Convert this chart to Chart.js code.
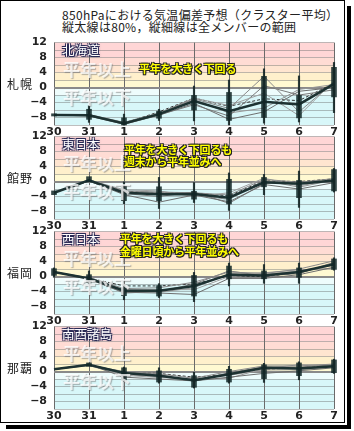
<!DOCTYPE html>
<html>
<head>
<meta charset="utf-8">
<script src="https://cdn.jsdelivr.net/npm/chart.js@4.4.1/dist/chart.umd.min.js"></script>
<style>
  body { margin: 0; width: 354px; height: 431px; overflow: hidden; position: relative; background: #fff;
         font-family: "Noto Sans CJK JP", sans-serif; }
  #frame { position: absolute; left: 0; top: 0; width: 343px; height: 421px; border: 1px solid #000;
           background: #fff; box-shadow: 2px 2px 0 0 #fff, 6px 6px 0 0 #000; }
  canvas { position: absolute; left: 0; }
  .t { position: absolute; white-space: nowrap; line-height: 1; }
  .title { left: 62px; font-size: 12px; color: #222; letter-spacing: 0.3px; }
  .stn { left: 7px; font-size: 12px; color: #222; letter-spacing: 1px; }
  .region { left: 62px; font-size: 12.5px; color: #fff;
            text-shadow: -1px -1px 0 #2a2a55, 1px -1px 0 #2a2a55, -1px 1px 0 #2a2a55, 1px 1px 0 #2a2a55, 0 0 3px #446; }
  .mark { left: 63px; font-size: 17px; font-weight: bold; color: rgba(255,255,255,0.75);
          text-shadow: 1px 1px 1px rgba(110,110,110,0.5); }
  .note { font-size: 11px; font-weight: bold; color: #ff0; letter-spacing: -0.2px;
          text-shadow: -1px -1px 0 #222, 1px -1px 0 #222, -1px 1px 0 #222, 1px 1px 0 #222, 0 1px 0 #222, 1px 0 0 #222; }
</style>
</head>
<body>
<div id="frame"></div>
<div class="t title" style="top:9px">850hPaにおける気温偏差予想（クラスター平均）</div>
<div class="t title" style="top:21px">縦太線は80%，縦細線は全メンバーの範囲</div>

<canvas id="c0" width="354" height="110"></canvas>
<canvas id="c1" width="354" height="110"></canvas>
<canvas id="c2" width="354" height="110"></canvas>
<canvas id="c3" width="354" height="110"></canvas>

<div id="labels"></div>

<script>
// days along the x axis
const days = ["30", "31", "1", "2", "3", "4", "5", "6", "7"];
// labelled values on the y axis (grid every 2)
const yTickLabels = [12, 8, 4, 0, -4, -8];

// 札幌 (北海道)
const sapporoMean = [-7.3, -7.4, -9.6, -7.1, -3.6, -6.3, -3.8, -4.5, 1.0];
const sapporoBox = [[-7.0, -7.6], [-5.8, -8.5], [-8.1, -10], [-6.3, -8.2], [-2.1, -6.0], [-1.3, -8.8], [3.0, -8.0], [-2.1, -8.1], [5.4, -2.5]];
const sapporoRange = [null, [-4.8, -9.3], [-7.1, -10], [-5.8, -8.8], [0.4, -8.9], [2.0, -10], [5.0, -9.5], [3.1, -9.2], [6.7, -6.7]];
const sapporoMembers = [
  [-7.3, -7.2, -9.3, -6.8, -3.0, -5.6, 3.0, -6.5, 1.5],
  [-7.3, -7.6, -9.8, -7.4, -4.2, -8.5, -6.5, -1.0, 0.0],
  [-7.3, -7.3, -9.5, -6.9, -2.8, -4.8, -1.5, -7.5, 1.8],
  [-7.3, -7.5, -9.7, -7.3, -4.6, -7.6, 0.5, -2.0, -0.6],
  [-7.3, -7.4, -9.4, -7.0, -3.2, -6.8, -5.5, -0.5, 0.8]
];
const sapporoDash = [-7.3, -7.3, -9.5, -6.5, -2.8, -5.0, -3.0, -3.5, 1.2];

// 館野 (東日本)
const tatenoMean = [-3.0, 0.3, -3.0, -3.4, -3.3, -4.3, -0.2, -0.6, 0.3];
const tatenoBox = [[-2.5, -3.5], [1.3, -0.1], [-1.2, -5.1], [-1.4, -5.1], [-2.6, -4.7], [0.6, -6.0], [1.1, -1.4], [0.3, -4.3], [3.2, -2.5]];
const tatenoRange = [null, null, [-0.1, -5.9], [1.1, -7.2], [0.0, -5.6], [2.3, -7.7], [1.9, -3.5], [2.8, -6.9], [3.5, -2.8]];
const tatenoMembers = [
  [-3.0, 0.5, -2.5, -2.8, -3.0, -3.6, 0.6, -0.2, 0.8],
  [-3.0, 0.2, -3.5, -5.5, -3.6, -5.4, -0.8, -2.0, -0.3],
  [-3.0, 0.4, -2.2, -2.5, -4.0, -3.0, 0.9, -1.2, 0.6],
  [-3.0, 0.1, -3.2, -4.0, -2.8, -5.8, -0.5, -0.3, 0.0],
  [-3.0, 0.3, -2.8, -3.0, -3.5, -4.8, 0.3, -1.5, 0.4]
];
const tatenoDash = [-3.0, 0.2, -2.6, -3.0, -3.1, -3.8, 0.2, 0.0, 0.7];

// 福岡 (西日本)
const fukuokaMean = [1.2, -0.5, -3.8, -3.8, -2.5, 0.5, 0.3, 1.2, 3.3];
const fukuokaBox = [[2.1, 0.3], [0.5, -1.5], [-3.0, -5.1], [-2.4, -5.2], [0.3, -5.2], [2.8, -0.6], [1.5, -0.6], [2.3, -0.2], [4.7, 1.9]];
const fukuokaRange = [[2.3, -0.2], [1.5, -2.0], [-2.1, -6.2], [-1.9, -5.6], [1.1, -6.7], [3.6, -2.5], [3.2, -1.8], [3.6, -1.8], [5.0, 1.7]];
const fukuokaMembers = [
  [1.2, -0.3, -3.2, -3.0, -1.5, 1.2, 0.8, 2.0, 4.2],
  [1.2, -0.7, -4.2, -4.4, -4.8, -0.5, -0.5, 0.5, 2.5],
  [1.2, -0.4, -3.5, -3.5, -3.5, 0.0, 0.6, 1.5, 3.0],
  [1.2, -0.6, -4.4, -4.0, -2.0, 1.5, 0.2, 0.8, 3.8],
  [1.2, -0.5, -3.6, -4.2, -3.0, 0.8, 1.0, 1.8, 2.2]
];
const fukuokaDash = [1.2, -0.4, -2.5, -2.5, -2.0, 0.2, 0.0, 1.0, 3.5];

// 那覇 (南西諸島)
const nahaMean = [0.6, 1.8, -0.4, -1.1, -2.3, -0.7, 1.0, 0.8, 1.4];
const nahaBox = [null, [2.3, 1.4], [1.0, -2.3], [0.2, -2.8], [-1.1, -4.2], [0.6, -2.8], [1.8, -1.9], [2.3, -1.1], [3.1, -0.3]];
const nahaRange = [null, null, [1.2, -2.7], [1.0, -3.1], [-0.2, -4.4], [1.4, -3.1], [2.2, -2.9], [2.6, -2.2], [3.3, -0.5]];
const nahaMembers = [
  [0.6, 1.7, 0.0, -0.6, -1.8, 0.0, 1.5, 1.5, 2.0],
  [0.6, 1.9, -1.5, -2.0, -2.5, -1.5, -0.5, 0.2, 1.0],
  [0.6, 1.6, -1.0, -1.6, -2.0, -1.0, 0.4, 0.5, 1.2],
  [0.6, 1.8, -0.2, -0.8, -2.6, -0.3, 1.2, 1.2, 1.8],
  [0.6, 1.7, -0.8, -1.4, -2.1, -1.8, 0.8, 1.8, 1.6]
];
const nahaDash = [0.6, 1.8, -0.3, -0.5, -1.5, -0.8, 0.6, 1.0, 1.5];

const panels = [
  { station: "札幌", region: "北海道", mean: sapporoMean, box: sapporoBox, range: sapporoRange, members: sapporoMembers, dash: sapporoDash,
    notes: ["平年を大きく下回る"], noteX: 139 },
  { station: "館野", region: "東日本", mean: tatenoMean, box: tatenoBox, range: tatenoRange, members: tatenoMembers, dash: tatenoDash,
    notes: ["平年を大きく下回るも", "週末から平年並みへ"], noteX: 124 },
  { station: "福岡", region: "西日本", mean: fukuokaMean, box: fukuokaBox, range: fukuokaRange, members: fukuokaMembers, dash: fukuokaDash,
    notes: ["平年を大きく下回るも", "金曜日頃から平年並みへ"], noteX: 120 },
  { station: "那覇", region: "南西諸島", mean: nahaMean, box: nahaBox, range: nahaRange, members: nahaMembers, dash: nahaDash,
    notes: [], noteX: 0 }
];

// plot tops of the four panels
const plotTops = [37, 131, 226, 321];
const noteTops = [[63], [144, 156], [233, 246], []];

const bands = [
  [8, 12, "#ffd6d6"], [6, 8, "#ffdcd4"], [4, 6, "#ffe5d0"], [2, 4, "#fff0cc"],
  [0, 2, "#fff9d2"], [-2, 0, "#eefcfc"], [-10, -2, "#d8f7f9"]
];
const memberColors = ["#8a8a8a", "#6e6e6e", "#a0a0a0", "#7a7a7a", "#959595"];

const bandPlugin = {
  id: "bands",
  beforeDraw(chart) {
    const { ctx, chartArea: a, scales: { y } } = chart;
    ctx.save();
    bands.forEach(function (b) {
      const top = y.getPixelForValue(b[1]);
      const bot = y.getPixelForValue(b[0]);
      ctx.fillStyle = b[2];
      ctx.fillRect(a.left, top, a.right - a.left, bot - top);
    });
    ctx.restore();
  }
};

const tickFont = { family: "DejaVu Sans", size: 11, weight: "bold" };

panels.forEach(function (p, i) {
  const canvas = document.getElementById("c" + i);
  canvas.style.top = (plotTops[i] - 8) + "px";

  const datasets = [
    { type: "bar", data: p.range, backgroundColor: "rgba(20,38,38,0.9)", barThickness: 1.5, grouped: false, order: 0, clip: false },
    { type: "bar", data: p.box, backgroundColor: "rgba(18,40,40,0.85)", barThickness: 5, grouped: false, order: 0, clip: false },
    { type: "line", data: p.mean, borderColor: "#1d3232", borderWidth: 2.5, pointRadius: 0, tension: 0, order: 1 }
  ];
  p.members.forEach(function (m, k) {
    datasets.push({ type: "line", data: m, borderColor: memberColors[k], borderWidth: 1, pointRadius: 0, tension: 0, order: 2 });
  });
  datasets.push({ type: "line", data: p.dash, borderColor: "#333", borderWidth: 1, borderDash: [3, 2], pointRadius: 0, tension: 0, order: 2 });

  new Chart(canvas.getContext("2d"), {
    type: "line",
    data: { labels: days, datasets: datasets },
    options: {
      responsive: false,
      animation: false,
      layout: { padding: { top: 8, right: 20, left: 0, bottom: 0 } },
      plugins: { legend: { display: false }, tooltip: { enabled: false } },
      scales: {
        x: {
          type: "category",
          offset: false,
          grid: { color: "#6a6a6a", lineWidth: 1, drawTicks: false, offset: false },
          border: { display: false },
          ticks: { font: tickFont, color: "#222", padding: 1, maxRotation: 0, autoSkip: false },
          afterFit: function (s) { s.height = 14; }
        },
        y: {
          type: "linear",
          position: "left",
          min: -10,
          max: 12,
          grid: {
            color: function (c) { return c.tick.value === 0 ? "#8a8a8a" : "rgba(110,110,110,0.45)"; },
            lineWidth: function (c) { return c.tick.value === 0 ? 2 : 1; },
            drawTicks: false
          },
          border: { display: false },
          ticks: {
            stepSize: 2,
            autoSkip: false,
            padding: 7,
            font: tickFont,
            color: "#222",
            callback: function (v) {
              if (yTickLabels.indexOf(v) < 0) return "";
              return v < 0 ? "\u2212" + (-v) : String(v);
            }
          },
          afterFit: function (s) { s.width = 54; }
        }
      }
    },
    plugins: [bandPlugin]
  });
});

// station names, region labels, watermarks and comments
const labels = document.getElementById("labels");
function addText(cls, text, left, top) {
  const d = document.createElement("div");
  d.className = "t " + cls;
  d.textContent = text;
  if (left !== null) d.style.left = left + "px";
  d.style.top = top + "px";
  labels.appendChild(d);
}
panels.forEach(function (p, i) {
  const t = plotTops[i];
  addText("mark", "平年以上", null, t + 23);
  addText("mark", "平年以下", null, t + 51);
  addText("region", p.region, null, t + 7);
  addText("stn", p.station, null, t + 41);
  p.notes.forEach(function (n, k) {
    addText("note", n, p.noteX, noteTops[i][k]);
  });
});
</script>
</body>
</html>
